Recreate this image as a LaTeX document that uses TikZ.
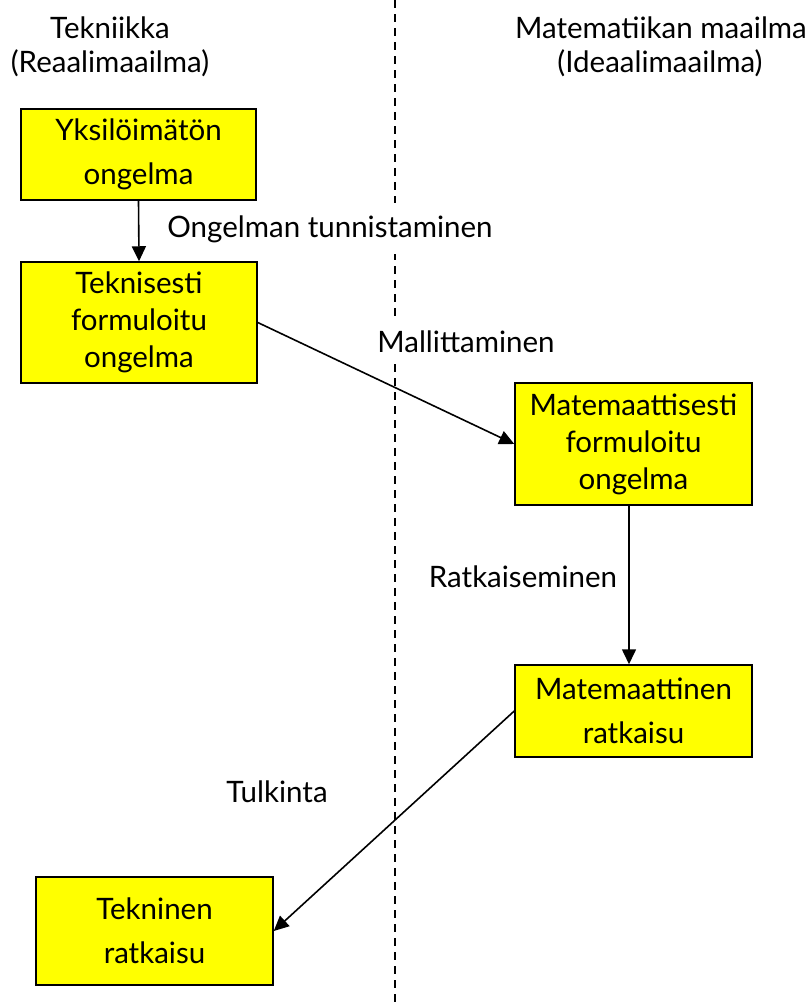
\documentclass[tikz,border=0pt]{standalone}
\usepackage{fontspec}
\setmainfont{Lato}
\usetikzlibrary{arrows.meta}
\definecolor{boxyellow}{RGB}{255,255,0}
\tikzset{
  stepbox/.style={draw=black, line width=1.5pt, fill=boxyellow, align=center,
    inner sep=0pt, font=\fontsize{29.5}{37}\selectfont},
  twoline/.style={font=\fontsize{29.5}{44}\selectfont},
  flow/.style={draw=black, line width=1.6pt, -{Triangle[length=15pt,width=14pt]}},
  lbl/.style={font=\fontsize{29.5}{34}\selectfont, anchor=base, inner sep=0pt},
  cutlbl/.style={lbl, fill=white, inner xsep=4pt, inner ysep=12pt},
  divider/.style={draw=black, line width=1.5pt, dash pattern=on 8pt off 6pt}
}
\begin{document}
\begin{tikzpicture}[x=1pt, y=-1pt]
\useasboundingbox (0,0) rectangle (806,1002);

% boundary between the real world and the world of mathematics
\coordinate (divtop) at (395,0);
\coordinate (divbot) at (395,1002);
\draw[divider] (divtop) -- (divbot);

% column headings
\node[lbl] (hl1) at (110,38) {Tekniikka};
\node[lbl] (hl2) at (110,72) {(Reaalimaailma)};
\node[lbl] (hr1) at (661,38) {Matematiikan maailma};
\node[lbl] (hr2) at (660,72) {(Ideaalimaailma)};

% stages
\node[stepbox, twoline, minimum width=235pt, minimum height=91pt] (b1) at (138.5,154.5)
  {Yksilöimätön\\ongelma};
\node[stepbox, minimum width=236pt, minimum height=121pt] (b2) at (139,322.5)
  {Teknisesti\\formuloitu\\ongelma};
\node[stepbox, minimum width=237pt, minimum height=122pt] (b3) at (633.5,444)
  {Matemaattisesti\\formuloitu\\ongelma};
\node[stepbox, twoline, minimum width=237pt, minimum height=92pt] (b4) at (633.5,711)
  {Matemaattinen\\ratkaisu};
\node[stepbox, twoline, minimum width=237pt, minimum height=108pt] (b5) at (154.5,931)
  {Tekninen\\ratkaisu};

% transitions
\draw[flow] (b1.south) -- (b2.north);
\draw[flow] (b2.east) -- (b3.west);
\draw[flow] (b3.south -| 629,0) -- (b4.north -| 629,0);
\draw[flow] (b4.west) -- (b5.east);

% transition labels
\node[cutlbl] (t1) at (330,237) {Ongelman tunnistaminen};
\node[cutlbl] (t2) at (466,352) {Mallittaminen};
\node[lbl] (t3) at (523,587) {Ratkaiseminen};
\node[lbl] (t4) at (277,802) {Tulkinta};
\end{tikzpicture}
\end{document}
